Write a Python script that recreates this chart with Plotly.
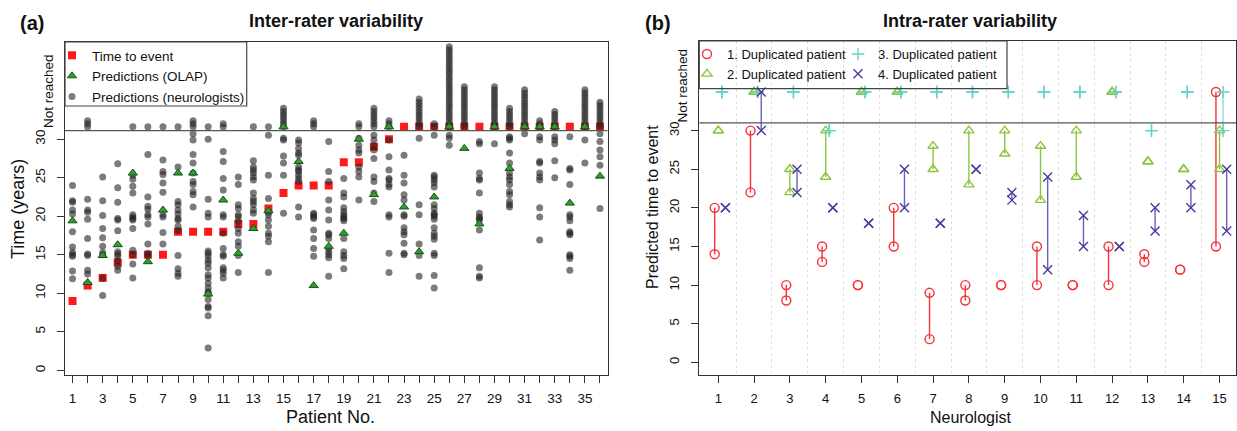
import plotly.graph_objects as go

W, H = 1237, 431
FONT = "Liberation Sans, Arial, Helvetica, sans-serif"

# ---------------- Panel (a) data: inter-rater variability ----------------
patients = list(range(1, 37))
patient_tick_text = [str(p) if p % 2 == 1 else "" for p in patients]

time_to_event = [9, 11, 12, 14, 15, 15, 15, 18, 18, 18, 18, 19, 19, 21, 23, 24, 24, 24,
                 27, 27, 29, 30] + ["NR"] * 14
olap_pred = [19.4, 11.4, 14.9, 16.3, 25.6, 14.1, 20.8, 25.6, 25.6, 9.9, 22.1, 15.2, 18.4,
             20.7, "NR", 27.1, 11.0, 16.1, 17.8, 30.0, 22.8, "NR", 21.2, 15.4, 22.5, "NR",
             28.8, 19.0, "NR", 26.2, "NR", "NR", "NR", 21.7, "NR", 25.2]

# neurologists' predictions (years) per patient, within range
p01 = [24, 22, 21.8, 20.8, 20.3, 18, 16, 15.3, 15, 14.8, 12.9, 11.9]
p02 = [22.2, 20.8, 20.5, 19.6, 17.1, 15.1, 14.9, 13.0, 12.5]
p03 = [25.1, 22, 20.1, 18.4, 17.2, 16.1, 15.3, 15, 12.0, 9.7]
p04 = [26.8, 23.7, 21.8, 19.7, 19.5, 18.1, 15.4, 15.1, 14.8, 14.2, 13.5, 13.0]
p05 = [25.3, 24.8, 23.9, 23.0, 20.2, 19.9, 19.7, 19.5, 18.4, 15.6, 15.0, 13.8, 12.0]
p06 = [28, 22.5, 21.3, 20.9, 20.2, 19.9, 19, 16.4, 15.2, 14.9]
p07 = [27.3, 25.8, 25.4, 24.3, 23.1, 20.2, 19.9, 17.9, 16.4]
p08 = [26.4, 21.9, 21.5, 20.8, 20.3, 19.7, 19.5, 18.7, 18.1, 14.9, 13.2, 12.6, 12.2]
p09 = [30.7, 29.9, 28, 26.9, 25.6, 24.5, 24.1, 23.2, 22.8, 21.2]
p10 = [30, 22.2, 20.4, 19.9, 15.5, 15.2, 14.8, 14.3, 13.9, 13.3, 12.4, 12, 11.3, 10.7,
       10.2, 10, 9.2, 8.3, 8.1, 7.1, 2.9]
p11 = [28.4, 27.1, 24.9, 23.4, 20.2, 19.9, 17.8, 15.8, 15.0, 14.8, 13.3, 13.0, 12.6, 12.0]
p12 = [25.1, 24.1, 21.5, 21.0, 20.2, 19.9, 19.3, 18.4, 17.8, 16.7, 16.1, 14.9, 12.7]
p13 = [27.2, 26.4, 26.0, 25.6, 25.1, 24.7, 23.0, 22.3, 21.9, 21.5, 20.8, 20.4]
p14 = [30.5, 25.3, 22.3, 20.5, 20.2, 19.5, 18.7, 17.8, 17.4, 16.7, 12.7]
p15 = [30.1, 29.9, 27.8, 26.9, 25.3, 20.4]
p16 = [29.9, 29.5, 28.8, 28.2, 27.9, 26.4, 26.0, 25.8, 25.3, 24.9, 24.5, 21.2, 19.9]
p17 = [20.4, 20.2, 19.9, 19.7, 18.2, 17.1, 15.8, 14.8]
p18 = [29.7, 25.8, 24.5, 22.1, 20.8, 19.5, 17.8, 17.6, 17.1, 15.8, 15.4, 15.0, 14.6, 12.2]
p19 = [24.9, 23.0, 22.5, 21.1, 20.6, 20.2, 19.9, 19.7, 19.4, 17.1, 15.4, 14.9, 14.5, 13.2]
p20 = [30.1, 29.2, 28.6, 28.2, 26.4, 25.8, 25.1, 22.1]
p21 = [30.5, 29.9, 29.1, 28.6, 27.5, 25.1, 24.5, 23.0, 21.9]
p22 = [29.9, 27.7, 26.0, 24.9, 24.7, 24.1, 23.8, 20.2, 19.9, 15.2, 12.7]
p23 = [27.9, 25.3, 24.3, 22.8, 22.1, 20.2, 20.0, 18.5, 18.0, 17.6, 16.5, 15.2, 15.0]
p24 = [30.1, 21.5, 20.2, 16.4, 14.9, 12.2]
p25 = [30.5, 25.3, 25.1, 24.7, 24.3, 23.8, 21.5, 21.0, 20.4, 20.2, 20.0, 19.6, 18.5, 17.8,
       17.4, 17.0, 15.2, 14.9, 12.3, 10.7]
p26 = [30.5, 30.1, 29.2]
p27 = []
p28 = [29.7, 29.4, 25.6, 24.9, 24.7, 23.0, 20.4, 19.9, 19.7, 19.5, 18.2, 13.3, 12.2, 12.0]
p29 = [29.4]
p30 = [30.3, 30.1, 29.9, 28.2, 26.9, 25.6, 25.1, 24.7, 24.1, 23.2, 22.8, 21.9, 21.5, 21.2]
p31 = [30.7]
p32 = [30.3, 29.9, 27.1, 26.9, 25.6, 25.1, 24.7, 21.1, 19.9, 16.9]
p33 = [30.3, 29.9, 29.4, 27.2, 25.0]
p34 = [30.3, 26.2, 26.0, 24.1, 20.2, 19.9, 19.4, 18.0, 17.8, 17.6, 15.0, 14.8, 14.5, 13.0]
p35 = [29.9, 26.9]
p36 = [30.7, 29.7, 28.6, 27.7, 26.6, 21.0]

# number of neurologists predicting "not reached" per patient
not_reached_counts = [0, 3, 0, 0, 1, 1, 1, 1, 3, 1, 2, 0, 1, 1, 7, 0, 3, 0, 0, 2, 7, 3, 0,
                      10, 2, 27, 14, 0, 14, 7, 13, 3, 6, 0, 13, 9]

neuro_lists = [p01, p02, p03, p04, p05, p06, p07, p08, p09, p10, p11, p12, p13, p14, p15,
               p16, p17, p18, p19, p20, p21, p22, p23, p24, p25, p26, p27, p28, p29, p30,
               p31, p32, p33, p34, p35, p36]

# ---------------- Panel (b) data: intra-rater variability ----------------
neurologists = list(range(1, 16))
dup1_first = [20, 30, 10, 15, 10, 20, 9, 10, 10, 15, 10, 15, 14, 12, "NR"]
dup1_second = [14, 22, 8, 13, 10, 15, 3, 8, 10, 10, 10, 10, 13, 12, 15]
dup2_first = [30, "NR", 25, 30, "NR", "NR", 28, 30, 30, 28, 30, "NR", 26, 25, 30]
dup2_second = [30, "NR", 22, 24, "NR", "NR", 25, 23, 27, 21, 24, "NR", 26, 25, 25]
dup3_first = ["NR", "NR", "NR", 30, "NR", "NR", "NR", "NR", "NR", "NR", "NR", "NR", 30, "NR", "NR"]
dup3_second = ["NR", "NR", "NR", 30, "NR", "NR", "NR", "NR", "NR", "NR", "NR", "NR", 30, "NR", 30]
dup4_first = [20, "NR", 25, 20, 18, 25, 18, 25, 22, 24, 19, 15, 20, 23, 25]
dup4_second = [20, 30, 22, 20, 18, 20, 18, 25, 21, 12, 15, 15, 17, 20, 17]

dup_names = ["1. Duplicated patient", "2. Duplicated patient",
             "3. Duplicated patient", "4. Duplicated patient"]
dup_colors = ["#F5333A", "#8CC63F", "#5ED3C9", "#4A3A9E"]
dup_seg_colors = ["#F5333A", "#8CC63F", "#93DCE6", "#6A5CC0"]
dup_symbols = ["circle-open", "triangle-up-open", "cross-thin", "x-thin"]
dup_offsets = [-0.1, 0.0, 0.1, 0.2]

NR_A = 31.6      # plotted level for "not reached" in panel (a)
NR_LINE_A = 31.1
STACK_STEP = 0.4
NR_B = 35.0      # plotted level for "not reached" in panel (b)
NR_LINE_B = 31.0


def px_x(p):
    return p / W


def px_y(p):
    return 1 - p / H


def nr_map(v, level):
    return level if v == "NR" else v


fig = go.Figure()

# ---- panel (a) ----
fig.add_trace(go.Scatter(
    x=patients, y=[nr_map(v, NR_A) for v in time_to_event], mode="markers",
    marker=dict(symbol="square", size=8, color="#FF1A1A", line=dict(width=0)),
    name="Time to event", xaxis="x", yaxis="y", legend="legend", legendrank=1))

dot_x, dot_y = [], []
for pat, vals in zip(patients, neuro_lists):
    dot_x += [pat] * len(vals)
    dot_y += vals
for pat, cnt in zip(patients, not_reached_counts):
    for k in range(cnt):
        dot_x.append(pat)
        dot_y.append(NR_A + k * STACK_STEP)
fig.add_trace(go.Scatter(
    x=dot_x, y=dot_y, mode="markers",
    marker=dict(symbol="circle", size=7, color="rgba(35,35,35,0.6)", line=dict(width=0)),
    name="Predictions (neurologists)", xaxis="x", yaxis="y", legend="legend", legendrank=3))

fig.add_trace(go.Scatter(
    x=patients, y=[nr_map(v, NR_A) for v in olap_pred], mode="markers",
    marker=dict(symbol="triangle-up", size=8, color="#2E9E2E",
                line=dict(width=1, color="#165216")),
    name="Predictions (OLAP)", xaxis="x", yaxis="y", legend="legend", legendrank=2))

# ---- panel (b) ----
dup_first = [dup1_first, dup2_first, dup3_first, dup4_first]
dup_second = [dup1_second, dup2_second, dup3_second, dup4_second]
for d in range(4):
    off = dup_offsets[d]
    sx, sy, mx, my = [], [], [], []
    for n, a, b in zip(neurologists, dup_first[d], dup_second[d]):
        ya, yb = nr_map(a, NR_B), nr_map(b, NR_B)
        mx += [n + off, n + off]
        my += [ya, yb]
        if ya != yb:
            sx += [n + off, n + off, None]
            sy += [ya, yb, None]
    fig.add_trace(go.Scatter(
        x=sx, y=sy, mode="lines", line=dict(color=dup_seg_colors[d], width=1.4),
        showlegend=False, hoverinfo="skip", xaxis="x2", yaxis="y2"))
    fig.add_trace(go.Scatter(
        x=mx, y=my, mode="markers", name=dup_names[d],
        marker=dict(symbol=dup_symbols[d], size=9, color=dup_colors[d],
                    line=dict(width=1.4, color=dup_colors[d])),
        xaxis="x2", yaxis="y2", legend="legend2" if d < 2 else "legend3"))

axis_common = dict(showline=True, linecolor="#333", linewidth=1, mirror=True,
                   ticks="outside", ticklen=7, tickwidth=1, tickcolor="#333",
                   showgrid=False, zeroline=False)

fig.update_layout(
    width=W, height=H, margin=dict(l=0, r=0, t=0, b=0),
    paper_bgcolor="white", plot_bgcolor="white",
    font=dict(family=FONT, color="#111"),
    xaxis=dict(domain=[px_x(65), px_x(607.5)], range=[0.5, 36.5], anchor="y",
               tickmode="array", tickvals=patients, ticktext=patient_tick_text,
               ticklabelstandoff=4,
               tickfont=dict(size=13.5, family=FONT, color="#111"), **axis_common),
    yaxis=dict(domain=[px_y(375), px_y(42)], range=[-0.6, 42.6], anchor="x",
               tickmode="array", tickvals=[0, 5, 10, 15, 20, 25, 30], tickangle=-90,
               ticklabelstandoff=7,
               tickfont=dict(size=13.5, family=FONT, color="#111"), **axis_common),
    xaxis2=dict(domain=[px_x(699.3), px_x(1236)], range=[0.47, 15.46], anchor="y2",
                tickmode="array", tickvals=neurologists, ticklabelstandoff=4,
                tickfont=dict(size=13, family=FONT, color="#111"),
                minor=dict(tickmode="array", tickvals=[n + 0.5 for n in neurologists[:-1]],
                           showgrid=True, gridcolor="#dedede", griddash="dot",
                           gridwidth=1, ticks=""),
                **axis_common),
    yaxis2=dict(domain=[px_y(375), px_y(41)], range=[-1.64, 41.6], anchor="x2",
                tickmode="array", tickvals=[0, 5, 10, 15, 20, 25, 30], tickangle=-90,
                ticklabelstandoff=7,
                tickfont=dict(size=13, family=FONT, color="#111"), **axis_common),
    legend=dict(x=px_x(52), y=px_y(40), xanchor="left", yanchor="top",
                bgcolor="rgba(0,0,0,0)", borderwidth=0, tracegroupgap=0,
                font=dict(size=13.5, family=FONT, color="#111"), itemwidth=30),
    legend2=dict(x=px_x(687), y=px_y(39), xanchor="left", yanchor="top",
                 bgcolor="rgba(0,0,0,0)", borderwidth=0, tracegroupgap=0,
                 font=dict(size=13, family=FONT, color="#111"), itemwidth=30),
    legend3=dict(x=px_x(838), y=px_y(39), xanchor="left", yanchor="top",
                 bgcolor="rgba(0,0,0,0)", borderwidth=0, tracegroupgap=0,
                 font=dict(size=13, family=FONT, color="#111"), itemwidth=30),
)

shapes = [
    # panel (a) legend box and not-reached separator
    dict(type="rect", xref="paper", yref="paper", x0=px_x(65), x1=px_x(246.7),
         y0=px_y(106), y1=px_y(42), line=dict(color="#444", width=1.2), layer="above"),
    dict(type="line", xref="x domain", yref="y", x0=0, x1=1, y0=NR_LINE_A, y1=NR_LINE_A,
         line=dict(color="#555", width=1.4)),
    # panel (b) legend box and not-reached separator
    dict(type="rect", xref="paper", yref="paper", x0=px_x(699.3), x1=px_x(1007),
         y0=px_y(88.7), y1=px_y(41), line=dict(color="#444", width=1.2), layer="above"),
    dict(type="line", xref="x2 domain", yref="y2", x0=0, x1=1, y0=NR_LINE_B, y1=NR_LINE_B,
         line=dict(color="#555", width=1.4)),
]
fig.update_layout(shapes=shapes)


def ann(text, x, y, size, bold=False, angle=0):
    return dict(text=f"<b>{text}</b>" if bold else text, xref="paper", yref="paper",
                x=px_x(x), y=px_y(y), xanchor="center", yanchor="middle",
                showarrow=False, textangle=angle,
                font=dict(size=size, family=FONT, color="#111"))


fig.update_layout(annotations=[
    ann("(a)", 32, 23, 20, bold=True),
    ann("Inter-rater variability", 336, 21, 18, bold=True),
    ann("(b)", 658, 23, 20, bold=True),
    ann("Intra-rater variability", 970, 21, 18, bold=True),
    ann("Time (years)", 18, 209, 18, angle=-90),
    ann("Predicted time to event", 652, 207, 16, angle=-90),
    ann("Patient No.", 330, 417, 18),
    ann("Neurologist", 970, 417, 16),
    ann("Not reached", 49, 91, 13.5, angle=-90),
    ann("Not reached", 682.5, 86, 13.5, angle=-90),
])

fig.write_html("out.html", config={"displayModeBar": False},
               post_script="document.body.style.margin='0';")
